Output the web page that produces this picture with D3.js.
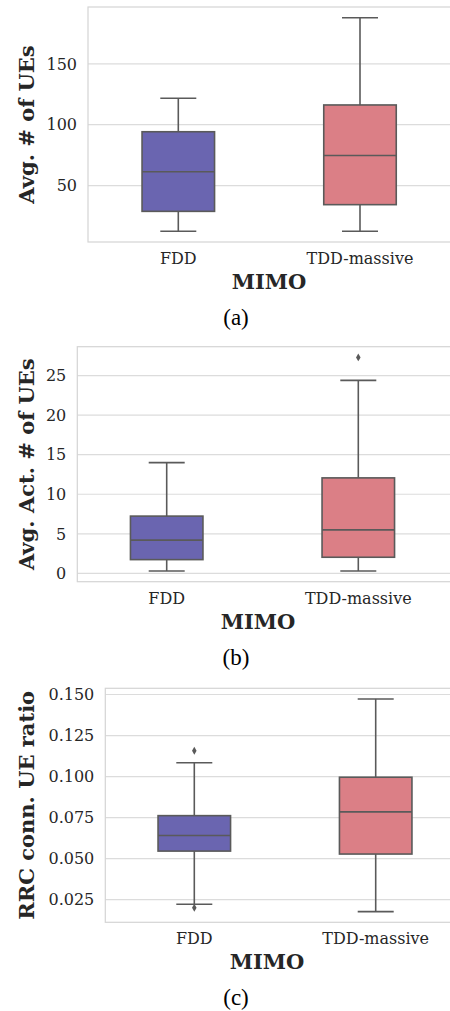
<!DOCTYPE html>
<html>
<head>
<meta charset="utf-8">
<script src="https://cdn.jsdelivr.net/npm/d3@7"></script>
<style>
  body { margin: 0; background: #fff; }
  text { font-family: "DejaVu Serif", serif; }
  .tick-label { font-size: 16px; fill: #262626; }
  .axis-label { font-size: 21px; font-weight: bold; fill: #262626; }
  .caption { font-family: "Liberation Serif", "Times New Roman", serif; font-size: 23px; fill: #000; }
</style>
</head>
<body>
<div id="wrapper"></div>
<script>
// categories on the x axis
const categories = ['FDD', 'TDD-massive'];

// box stats per category: [lower whisker, q1, median, q3, upper whisker]
const ueStats = [[12.4, 28.8, 61.3, 94.2, 121.7], [12.4, 34.3, 74.7, 116.2, 187.9]];
const ueOutliers = [[], []];
const ueTicks = [50, 100, 150];

const actStats = [[0.3, 1.74, 4.2, 7.24, 14.0], [0.3, 2.04, 5.5, 12.07, 24.4]];
const actOutliers = [[], [27.3]];
const actTicks = [0, 5, 10, 15, 20, 25];

const rrcStats = [[0.0222, 0.0546, 0.0641, 0.0762, 0.1084], [0.0177, 0.0528, 0.0785, 0.0996, 0.1473]];
const rrcOutliers = [[0.1157, 0.0201], []];
const rrcTicks = [0.025, 0.05, 0.075, 0.1, 0.125, 0.15];

const boxColors = ['#6a65b0', '#db7f86'];

async function drawChart() {
  let dimensions = {
    width: 450,
    height: 1011,
  }

  const wrapper = d3.select('#wrapper')
    .append('svg')
    .attr('width', dimensions.width)
    .attr('height', dimensions.height)

  const panels = [
    { stats: ueStats, outliers: ueOutliers, ticks: ueTicks, fmt: d3.format('d'),
      label: 'Avg. # of UEs', caption: '(a)',
      left: 88, top: 7, bottom: 242, centers: [178.3, 360], mimoX: 269 },
    { stats: actStats, outliers: actOutliers, ticks: actTicks, fmt: d3.format('d'),
      label: 'Avg. Act. # of UEs', caption: '(b)',
      left: 77.3, top: 346.7, bottom: 581.7, centers: [166.7, 358.3], mimoX: 258 },
    { stats: rrcStats, outliers: rrcOutliers, ticks: rrcTicks, fmt: d3.format('.3f'),
      label: 'RRC conn. UE ratio', caption: '(c)',
      left: 105.3, top: 688.3, bottom: 922.3, centers: [194.3, 375.7], mimoX: 267 },
  ]

  const boxWidth = 72.5;
  const capWidth = 36;
  const lineColor = '#5a5a5a';

  panels.forEach(p => {
    const g = wrapper.append('g')

    // y domain like matplotlib autoscale: data range + 5% margin
    const allVals = p.stats.flat().concat(p.outliers.flat());
    const [lo, hi] = d3.extent(allVals);
    const pad = (hi - lo) * 0.05;

    const yScale = d3.scaleLinear()
      .domain([lo - pad, hi + pad])
      .range([p.bottom, p.top])

    const xScale = d3.scalePoint()
      .domain(categories)
      .range(p.centers)

    // grid
    g.append('g')
      .selectAll('line')
      .data(p.ticks)
      .join('line')
      .attr('x1', p.left)
      .attr('x2', dimensions.width)
      .attr('y1', d => yScale(d))
      .attr('y2', d => yScale(d))
      .attr('stroke', '#dcdcdc')
      .attr('stroke-width', 1.2)

    // frame
    g.append('rect')
      .attr('x', p.left)
      .attr('y', p.top)
      .attr('width', dimensions.width + 10 - p.left)
      .attr('height', p.bottom - p.top)
      .attr('fill', 'none')
      .attr('stroke', '#d4d4d4')
      .attr('stroke-width', 1.2)

    // tick labels
    g.append('g')
      .selectAll('text')
      .data(p.ticks)
      .join('text')
      .attr('class', 'tick-label')
      .attr('x', p.left - 11)
      .attr('y', d => yScale(d))
      .attr('dy', '0.36em')
      .style('text-anchor', 'end')
      .text(d => p.fmt(d))

    g.append('g')
      .selectAll('text')
      .data(categories)
      .join('text')
      .attr('class', 'tick-label')
      .attr('x', d => xScale(d))
      .attr('y', p.bottom + 22)
      .style('text-anchor', 'middle')
      .text(d => d)

    // boxes
    const boxes = g.append('g')
      .selectAll('g')
      .data(p.stats)
      .join('g')

    boxes.append('line')
      .attr('x1', (d, i) => xScale(categories[i]))
      .attr('x2', (d, i) => xScale(categories[i]))
      .attr('y1', d => yScale(d[0]))
      .attr('y2', d => yScale(d[1]))
      .attr('stroke', lineColor)
      .attr('stroke-width', 1.6)
    boxes.append('line')
      .attr('x1', (d, i) => xScale(categories[i]))
      .attr('x2', (d, i) => xScale(categories[i]))
      .attr('y1', d => yScale(d[3]))
      .attr('y2', d => yScale(d[4]))
      .attr('stroke', lineColor)
      .attr('stroke-width', 1.6)
    // caps
    ;[0, 4].forEach(k => {
      boxes.append('line')
        .attr('x1', (d, i) => xScale(categories[i]) - capWidth / 2)
        .attr('x2', (d, i) => xScale(categories[i]) + capWidth / 2)
        .attr('y1', d => yScale(d[k]))
        .attr('y2', d => yScale(d[k]))
        .attr('stroke', lineColor)
        .attr('stroke-width', 1.6)
    })

    boxes.append('rect')
      .attr('x', (d, i) => xScale(categories[i]) - boxWidth / 2)
      .attr('width', boxWidth)
      .attr('y', d => yScale(d[3]))
      .attr('height', d => yScale(d[1]) - yScale(d[3]))
      .attr('fill', (d, i) => boxColors[i])
      .attr('stroke', lineColor)
      .attr('stroke-width', 1.6)

    boxes.append('line')
      .attr('x1', (d, i) => xScale(categories[i]) - boxWidth / 2)
      .attr('x2', (d, i) => xScale(categories[i]) + boxWidth / 2)
      .attr('y1', d => yScale(d[2]))
      .attr('y2', d => yScale(d[2]))
      .attr('stroke', lineColor)
      .attr('stroke-width', 1.6)

    // outliers
    const diamond = d3.symbol(d3.symbolDiamond).size(18)
    p.outliers.forEach((vals, i) => {
      g.selectAll(null)
        .data(vals)
        .join('path')
        .attr('d', diamond)
        .attr('transform', d => `translate(${xScale(categories[i])},${yScale(d)})`)
        .attr('fill', lineColor)
    })

    // axis labels
    g.append('text')
      .attr('class', 'axis-label')
      .attr('x', p.mimoX)
      .attr('y', p.bottom + 47)
      .style('text-anchor', 'middle')
      .text('MIMO')

    g.append('text')
      .attr('class', 'axis-label')
      .attr('transform', `translate(34,${(p.top + p.bottom) / 2}) rotate(-90)`)
      .style('text-anchor', 'middle')
      .text(p.label)

    g.append('text')
      .attr('class', 'caption')
      .attr('x', 236)
      .attr('y', p.bottom + 83)
      .style('text-anchor', 'middle')
      .text(p.caption)
  })
}

drawChart();
</script>
</body>
</html>
